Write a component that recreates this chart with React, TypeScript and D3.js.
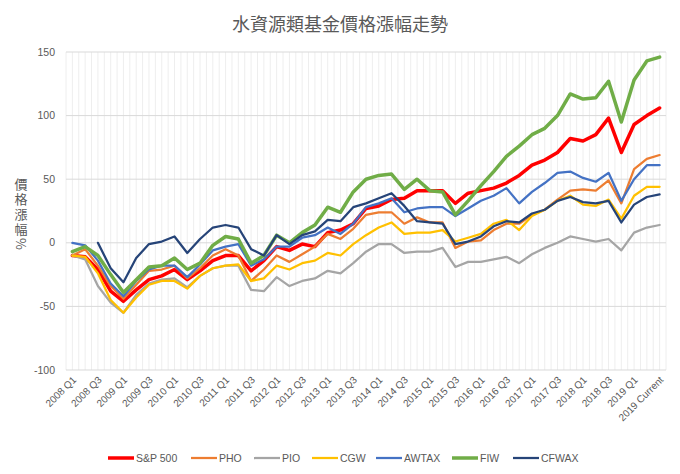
import React from 'react';
import * as d3 from 'd3';

const categories = [
  '2008 Q1','2008 Q2','2008 Q3','2008 Q4','2009 Q1','2009 Q2','2009 Q3','2009 Q4',
  '2010 Q1','2010 Q2','2010 Q3','2010 Q4','2011 Q1','2011 Q2','2011 Q3','2011 Q4',
  '2012 Q1','2012 Q2','2012 Q3','2012 Q4','2013 Q1','2013 Q2','2013 Q3','2013 Q4',
  '2014 Q1','2014 Q2','2014 Q3','2014 Q4','2015 Q1','2015 Q2','2015 Q3','2015 Q4',
  '2016 Q1','2016 Q2','2016 Q3','2016 Q4','2017 Q1','2017 Q2','2017 Q3','2017 Q4',
  '2018 Q1','2018 Q2','2018 Q3','2018 Q4','2019 Q1','2019 Q2','2019 Current'
];

const sp500 = [-10,-11,-21,-38,-46,-37,-29,-26,-21,-29,-22,-14,-10,-10,-22,-14,-3,-6,-1,-3,8,10,15,27,29,34,35,41,41,41,31,39,41,43,47,53,61,65,71,82,80,85,98,71,93,100,106];
const pho = [-10,-5,-18,-34,-44,-33,-22,-21,-18,-28,-20,-10,-5,-10,-30,-21,-10,-15,-9,-3,7,3,11,22,24,24,15,20,16,16,-4,1,2,10,15,15,22,26,34,41,42,41,49,31,58,66,69];
const pio = [-10,-13,-34,-47,-55,-41,-32,-29,-28,-35,-26,-20,-18,-18,-37,-38,-27,-34,-30,-28,-22,-24,-16,-7,-1,-1,-8,-7,-7,-4,-19,-15,-15,-13,-11,-16,-9,-4,0,5,3,1,3,-6,8,12,14];
const cgw = [-10,-11,-24,-45,-55,-43,-33,-30,-30,-36,-26,-20,-18,-17,-30,-28,-18,-21,-16,-14,-8,-10,-1,6,12,16,7,8,8,10,1,4,7,15,18,10,21,26,33,37,30,29,34,19,37,44,44];
const awtax = [0,-2,-14,-32,-42,-30,-21,-18,-18,-27,-17,-6,-3,-1,-18,-13,-3,-3,4,6,12,7,15,28,31,35,24,27,28,28,21,27,33,37,43,31,40,47,55,56,51,48,55,33,50,61,61];
const fiw = [-7,-3,-10,-25,-39,-29,-19,-18,-12,-21,-16,-2,5,3,-16,-10,6,0,8,14,28,24,40,50,53,54,42,50,41,40,22,33,45,56,68,76,85,90,100,117,113,114,127,95,128,143,146];
const cfwax: (number | null)[] = [null,null,0,-20,-31,-12,-1,1,5,-8,3,12,14,12,-5,-10,6,-1,6,9,18,17,28,31,35,39,29,17,16,15,-1,1,5,13,17,16,23,26,33,36,32,31,33,16,30,36,38];

const yTicks = [150, 100, 50, 0, -50, -100];
const titleText = '水資源類基金價格漲幅走勢';
const yTitleText = '價格漲幅%';

const series = [
  { name: 'S&P 500', values: sp500 as (number | null)[], color: '#FF0000', width: 3.5 },
  { name: 'PHO', values: pho as (number | null)[], color: '#ED7D31', width: 2.25 },
  { name: 'PIO', values: pio as (number | null)[], color: '#A5A5A5', width: 2.25 },
  { name: 'CGW', values: cgw as (number | null)[], color: '#FFC000', width: 2.25 },
  { name: 'AWTAX', values: awtax as (number | null)[], color: '#4472C4', width: 2.25 },
  { name: 'FIW', values: fiw as (number | null)[], color: '#70AD47', width: 3.5 },
  { name: 'CFWAX', values: cfwax, color: '#264478', width: 2.25 },
];

const legendX = [108, 191, 254, 312, 376, 452, 513];

export default function App() {
  const W = 680, H = 474;
  const left = 66, right = 666, top = 52, bottom = 370;
  const x = d3.scaleBand<string>().domain(categories).range([left, right]).padding(0);
  const bw = x.bandwidth();
  const y = d3.scaleLinear().domain([-100, 150]).range([bottom, top]);
  const cx = (i: number) => (x(categories[i]) as number) + bw / 2;
  const line = d3.line<number | null>()
    .defined(d => d != null)
    .x((_, i) => cx(i))
    .y(d => y(d as number));

  const font = '"Liberation Sans", Arial, sans-serif';
  const grey = '#595959';

  const vLines: number[] = [];
  for (let i = 0; i <= categories.length; i++) {
    vLines.push(left + i * bw);
    if (i < categories.length) vLines.push(cx(i));
  }

  return (
    <svg width={W} height={H} style={{ position: 'absolute', left: 0, top: 0, background: '#fff' }}>
      <rect x={0} y={0} width={W} height={H} fill="#fff" />
      <text x={340} y={31} textAnchor="middle" fontSize={18} fill={grey}
        fontFamily='"Noto Sans CJK TC", sans-serif'>{titleText}</text>

      {vLines.map((vx, i) => (
        <line key={'v' + i} x1={vx} x2={vx} y1={top} y2={bottom} stroke="#EEEEEE" strokeWidth={1} />
      ))}
      {yTicks.map(t => (
        <line key={'h' + t} x1={left} x2={right} y1={y(t)} y2={y(t)} stroke="#D9D9D9" strokeWidth={1} />
      ))}
      {yTicks.map(t => (
        <text key={'yt' + t} x={55} y={y(t)} dy="0.35em" textAnchor="end" fontSize={10.5}
          fill={grey} fontFamily={font}>{t}</text>
      ))}

      <text x={21} y={178} fontSize={13} fill={grey} letterSpacing={2}
        style={{ writingMode: 'vertical-rl' as any }}
        fontFamily='"Noto Sans CJK TC", sans-serif'>{yTitleText}</text>

      {categories.map((c, i) => i % 2 === 0 ? (
        <text key={'xl' + i} transform={`translate(${cx(i) + 2}, ${378}) rotate(-45)`} textAnchor="end"
          dy="0.35em" fontSize={10} fill={grey} fontFamily={font}>{c}</text>
      ) : null)}

      {series.map(s => (
        <path key={s.name} d={line(s.values) || ''} fill="none" stroke={s.color} strokeWidth={s.width}
          strokeLinejoin="round" strokeLinecap="round" />
      ))}

      {series.map((s, i) => (
        <g key={'lg' + s.name} transform={`translate(${legendX[i]}, 458)`}>
          <line x1={0} x2={26} y1={0} y2={0} stroke={s.color} strokeWidth={s.width} />
          <text x={28} y={0} dy="0.35em" fontSize={10.5} fill={grey} fontFamily={font}>{s.name}</text>
        </g>
      ))}
    </svg>
  );
}
